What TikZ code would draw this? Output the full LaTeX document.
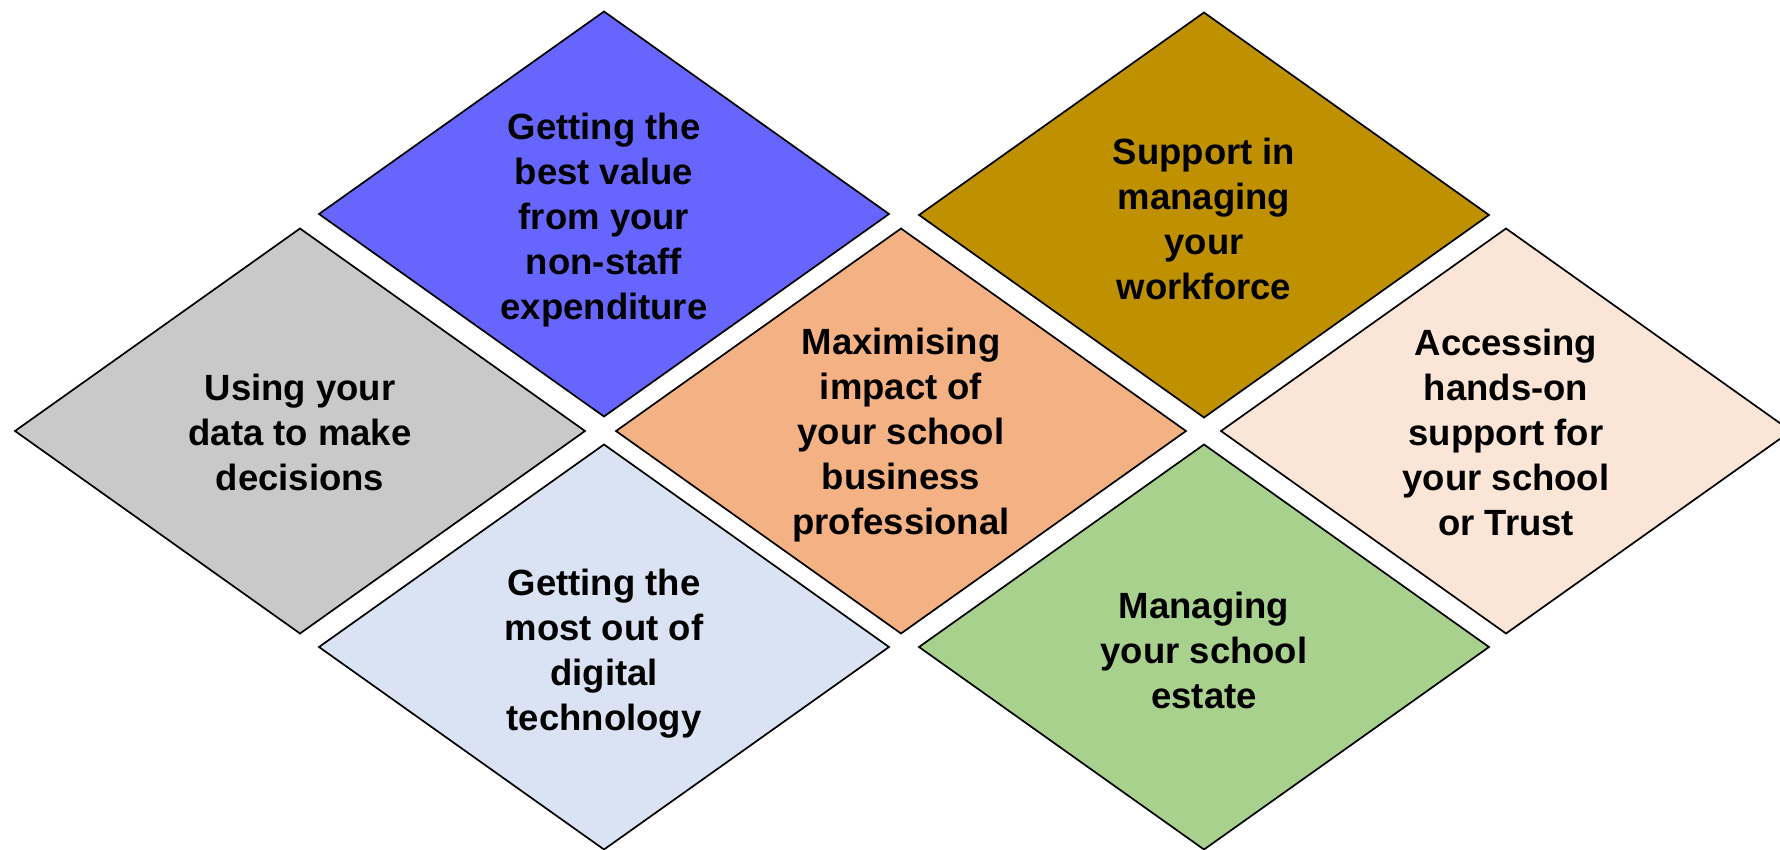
\documentclass[tikz,border=0pt]{standalone}
\usepackage{fontspec}
\setmainfont{Liberation Sans}
\definecolor{cblue}{HTML}{6666FF}
\definecolor{cgold}{HTML}{BF9000}
\definecolor{cgray}{HTML}{C9C9C9}
\definecolor{corange}{HTML}{F4B183}
\definecolor{cpeach}{HTML}{FBE5D6}
\definecolor{clblue}{HTML}{DAE3F3}
\definecolor{cgreen}{HTML}{A9D18E}
\tikzset{
  dshape/.style={draw=black, line width=1.7pt, line join=miter},
  dtext/.style={align=center, inner sep=0pt, font=\fontsize{36.5}{45}\selectfont\bfseries, text=black}
}
\newcommand{\mydiamond}[3]{%
  \path[dshape, fill=#3] (#1-285,#2) -- (#1,#2-202.5) -- (#1+285,#2) -- (#1,#2+202.5) -- cycle;}
\begin{document}
\begin{tikzpicture}[x=1pt, y=-1pt]
\useasboundingbox (0,0) rectangle (1780,849);
\clip (0,0) rectangle (1780,849);
\fill[white] (0,0) rectangle (1780,849);
\mydiamond{604}{214}{cblue}
\mydiamond{1204}{215}{cgold}
\mydiamond{300}{431}{cgray}
\mydiamond{901}{431}{corange}
\mydiamond{1506}{431}{cpeach}
\mydiamond{604}{647}{clblue}
\mydiamond{1204}{647}{cgreen}
\node[dtext] (value) at (604,220) {Getting the\\best value\\from your\\non-staff\\expenditure};
\node[dtext] (workforce) at (1204,219) {Support in\\managing\\your\\workforce};
\node[dtext] (data) at (300,432) {Using your\\data to make\\decisions};
\node[dtext] (sbp) at (901,435) {Maximising\\impact of\\your school\\business\\professional};
\node[dtext] (handson) at (1506,432) {Accessing\\hands-on\\support for\\your school\\or Trust};
\node[dtext] (digital) at (604,654) {Getting the\\most out of\\digital\\technology};
\node[dtext] (estate) at (1204,650) {Managing\\your school\\estate};
\end{tikzpicture}
\end{document}
